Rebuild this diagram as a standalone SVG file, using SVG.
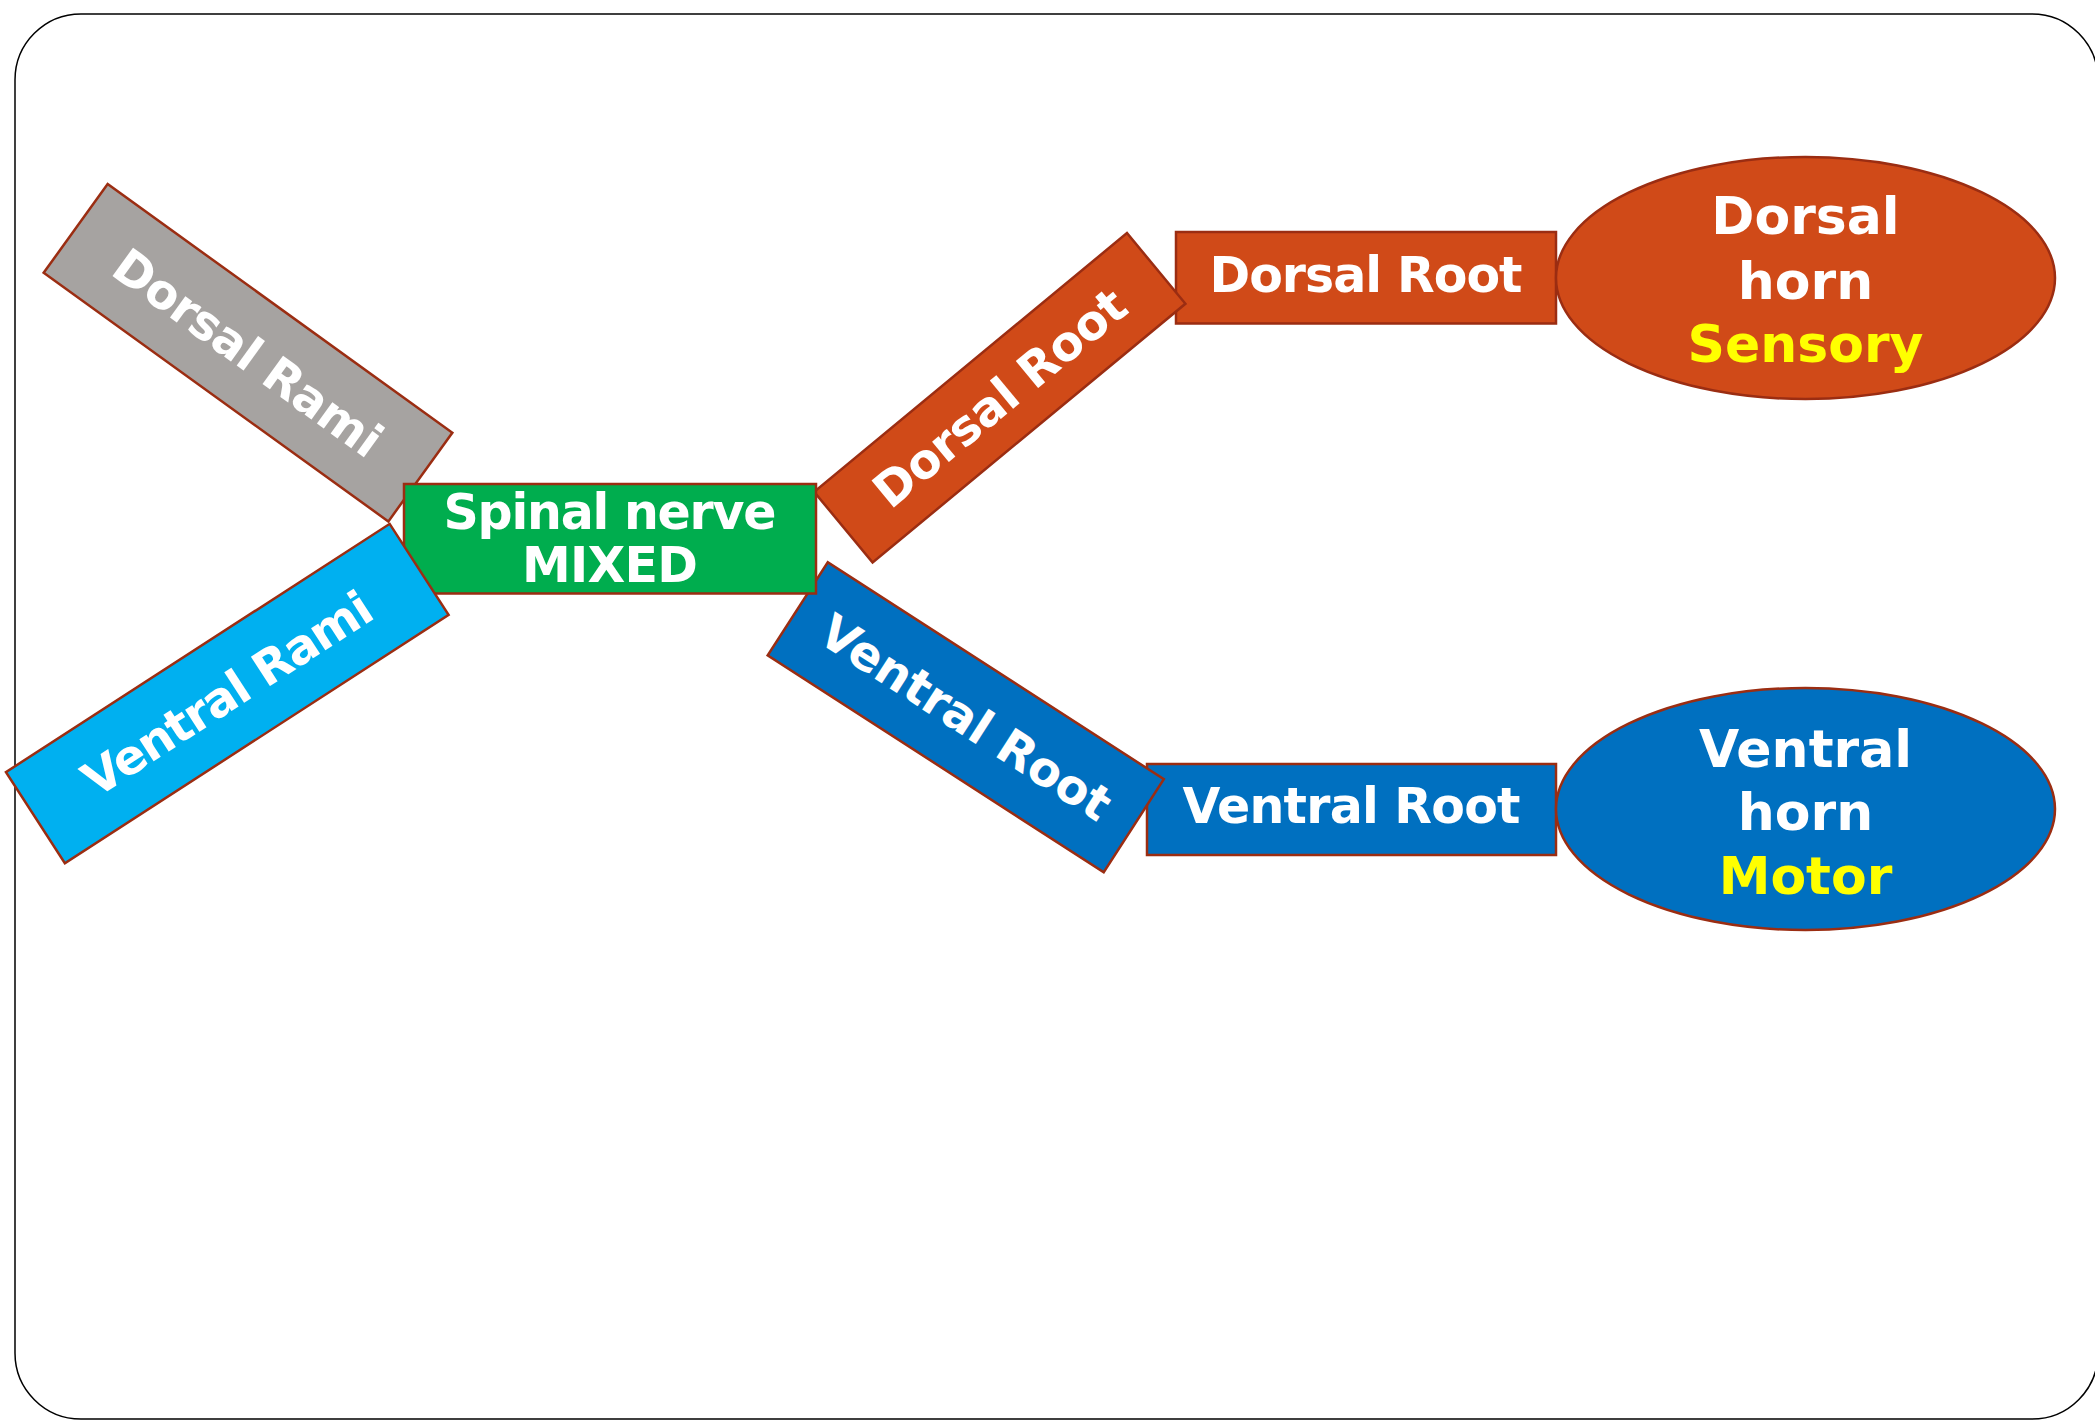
<svg xmlns="http://www.w3.org/2000/svg" width="2095" height="1421" viewBox="0 0 2095 1421">
<style>
.box{stroke:#9B2D12;stroke-width:2.5}
.t{font-family:"DejaVu Sans","Liberation Sans",sans-serif;font-weight:bold;fill:#FFFFFF;text-anchor:middle}
.y{fill:#FFFF00}
</style>
<rect x="15" y="14" width="2083" height="1405" rx="66" ry="66" fill="#FFFFFF" stroke="#000000" stroke-width="1.5"/>
<g id="connectors"></g>
<g id="dorsal-root">
<rect class="box" x="1176" y="232" width="380" height="91.5" fill="#D04A18"/>
<text class="t" x="1366" y="292.4" font-size="49" textLength="313">Dorsal Root</text>
</g>
<g id="ventral-root">
<rect class="box" x="1147" y="764" width="409" height="91" fill="#0070C0"/>
<text class="t" x="1351.5" y="823" font-size="49" textLength="338">Ventral Root</text>
</g>
<g id="dorsal-root-angled" transform="translate(999.75,397.75) rotate(-39.6)">
<rect class="box" x="-203" y="-45.8" width="406" height="91.7" fill="#D04A18"/>
<text class="t" x="0" y="17" font-size="48" textLength="312">Dorsal Root</text>
</g>
<g id="ventral-root-angled" transform="translate(965.75,717.25) rotate(32.85)">
<rect class="box" x="-200" y="-55.4" width="400" height="110.8" fill="#0070C0"/>
<text class="t" x="0" y="17" font-size="48" textLength="336">Ventral Root</text>
</g>
<g id="dorsal-rami" transform="translate(248,352.75) rotate(35.8)">
<rect class="box" x="-212.5" y="-54.7" width="425" height="109.4" fill="#A6A3A1"/>
<text class="t" x="0" y="17" font-size="48" textLength="318">Dorsal Rami</text>
</g>
<g id="spinal-nerve">
<rect class="box" x="404" y="484" width="412" height="109.5" fill="#00AD4E"/>
<text class="t" x="610" y="529" font-size="49" textLength="333">Spinal nerve</text>
<text class="t" x="610" y="581.6" font-size="49" textLength="176">MIXED</text>
</g>
<g id="ventral-rami" transform="translate(227.25,693.5) rotate(-32.9)">
<rect class="box" x="-228.5" y="-54.2" width="457" height="108.5" fill="#00B0F0"/>
<text class="t" x="0" y="17" font-size="48" textLength="334">Ventral Rami</text>
</g>
<g id="dorsal-horn">
<ellipse class="box" cx="1805.5" cy="278" rx="249.5" ry="121" fill="#D04A18"/>
<text class="t" x="1805.5" y="234.4" font-size="52">Dorsal</text>
<text class="t" x="1805.5" y="299" font-size="52">horn</text>
<text class="t y" x="1805.5" y="362" font-size="52">Sensory</text>
</g>
<g id="ventral-horn">
<ellipse class="box" cx="1805.5" cy="809" rx="249.5" ry="121" fill="#0070C0"/>
<text class="t" x="1805.5" y="766.5" font-size="52">Ventral</text>
<text class="t" x="1805.5" y="830" font-size="52">horn</text>
<text class="t y" x="1805.5" y="894" font-size="52">Motor</text>
</g>
</svg>
